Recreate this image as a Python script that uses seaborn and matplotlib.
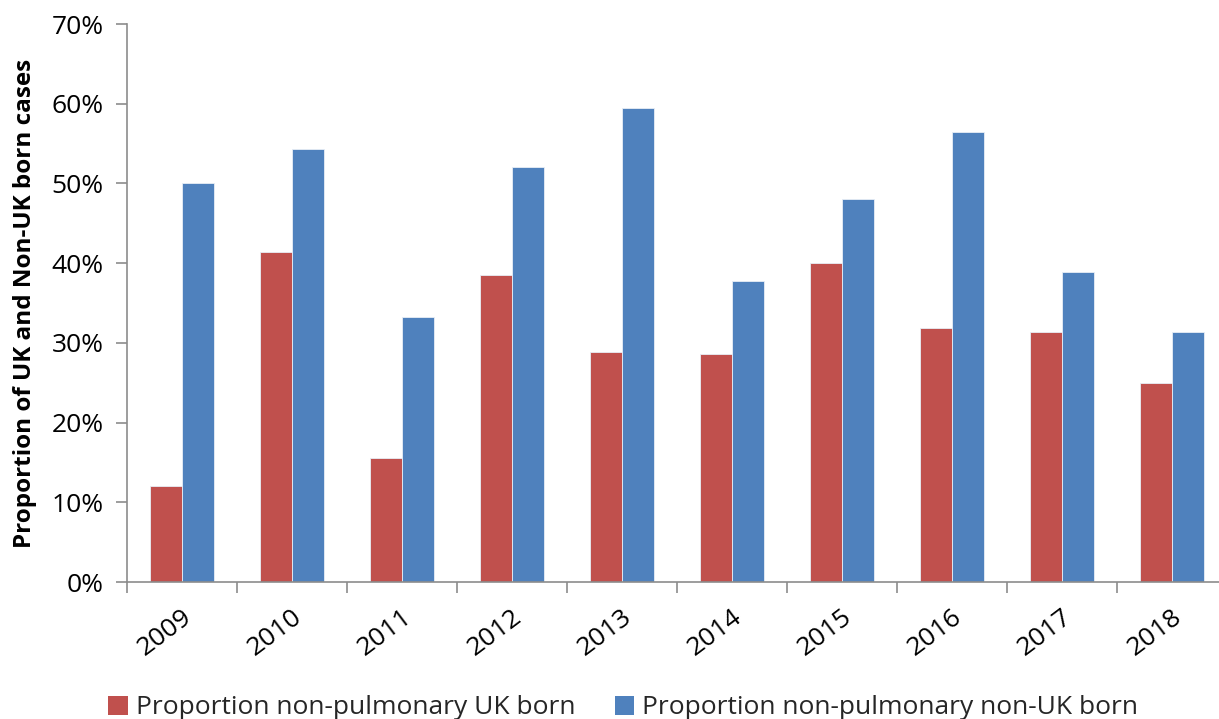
import matplotlib
matplotlib.use("Agg")
import matplotlib.pyplot as plt
import seaborn as sns
import pandas as pd
import numpy as np
from matplotlib.ticker import PercentFormatter, FixedLocator
from matplotlib.patches import Patch

years = ["2009", "2010", "2011", "2012", "2013", "2014", "2015", "2016", "2017", "2018"]
uk_born = [12.1, 41.4, 15.6, 38.5, 28.9, 28.6, 40.0, 31.9, 31.4, 25.0]
non_uk_born = [50.0, 54.3, 33.3, 52.1, 59.4, 37.8, 48.1, 56.4, 38.9, 31.3]
series_names = ["Proportion non-pulmonary UK born", "Proportion non-pulmonary non-UK born"]
colors = ["#C0504D", "#4F81BD"]

df = pd.DataFrame({
    "year": years * 2,
    "value": uk_born + non_uk_born,
    "series": [series_names[0]] * len(years) + [series_names[1]] * len(years),
})

sns.set_theme(style="white")
plt.rcParams["font.family"] = ["Open Sans", "DejaVu Sans"]

fig = plt.figure(figsize=(12.19, 7.19), dpi=100)
ax = fig.add_axes([127 / 1219, 1 - 582 / 719, 1100 / 1219, (582 - 24) / 719])

sns.barplot(data=df, x="year", y="value", hue="series", palette=colors,
            width=0.575, saturation=1, edgecolor="#E8EEF6", linewidth=0.6,
            ax=ax, legend=False)

ax.set_xlim(-0.5, len(years) - 0.5)
ax.set_ylim(0, 70)
ax.yaxis.set_major_locator(FixedLocator(np.arange(0, 71, 10)))
ax.yaxis.set_major_formatter(PercentFormatter(decimals=0))

for side in ["top", "right"]:
    ax.spines[side].set_visible(False)
for side in ["left", "bottom"]:
    ax.spines[side].set_color("#8C8C8C")
    ax.spines[side].set_linewidth(1.2)

ax.tick_params(axis="y", direction="out", length=8, width=1.2, color="#8C8C8C",
               labelsize=19, pad=9, left=True, labelcolor="black")
ax.set_xticks(range(len(years)))
ax.set_xticklabels(years, rotation=37, ha="right", rotation_mode="anchor",
                   fontsize=19, color="black")
ax.tick_params(axis="x", which="major", length=0, pad=16)
ax.set_xticks(np.arange(-0.5, len(years), 1), minor=True)
ax.tick_params(axis="x", which="minor", direction="out", length=8, width=1.2,
               color="#8C8C8C", bottom=True)

ax.set_xlabel("")
ax.set_ylabel("Proportion of UK and Non-UK born cases", fontsize=17.5,
              fontweight="bold", color="black", labelpad=10)

handles = [Patch(facecolor=c, edgecolor="none") for c in colors]
fig.legend(handles, series_names, loc="lower left", bbox_to_anchor=(0.069, -0.035),
           ncol=2, frameon=False, fontsize=19, handlelength=0.75, handleheight=0.75,
           handletextpad=0.3, columnspacing=1.5)

fig.savefig("out.png", dpi=100)
